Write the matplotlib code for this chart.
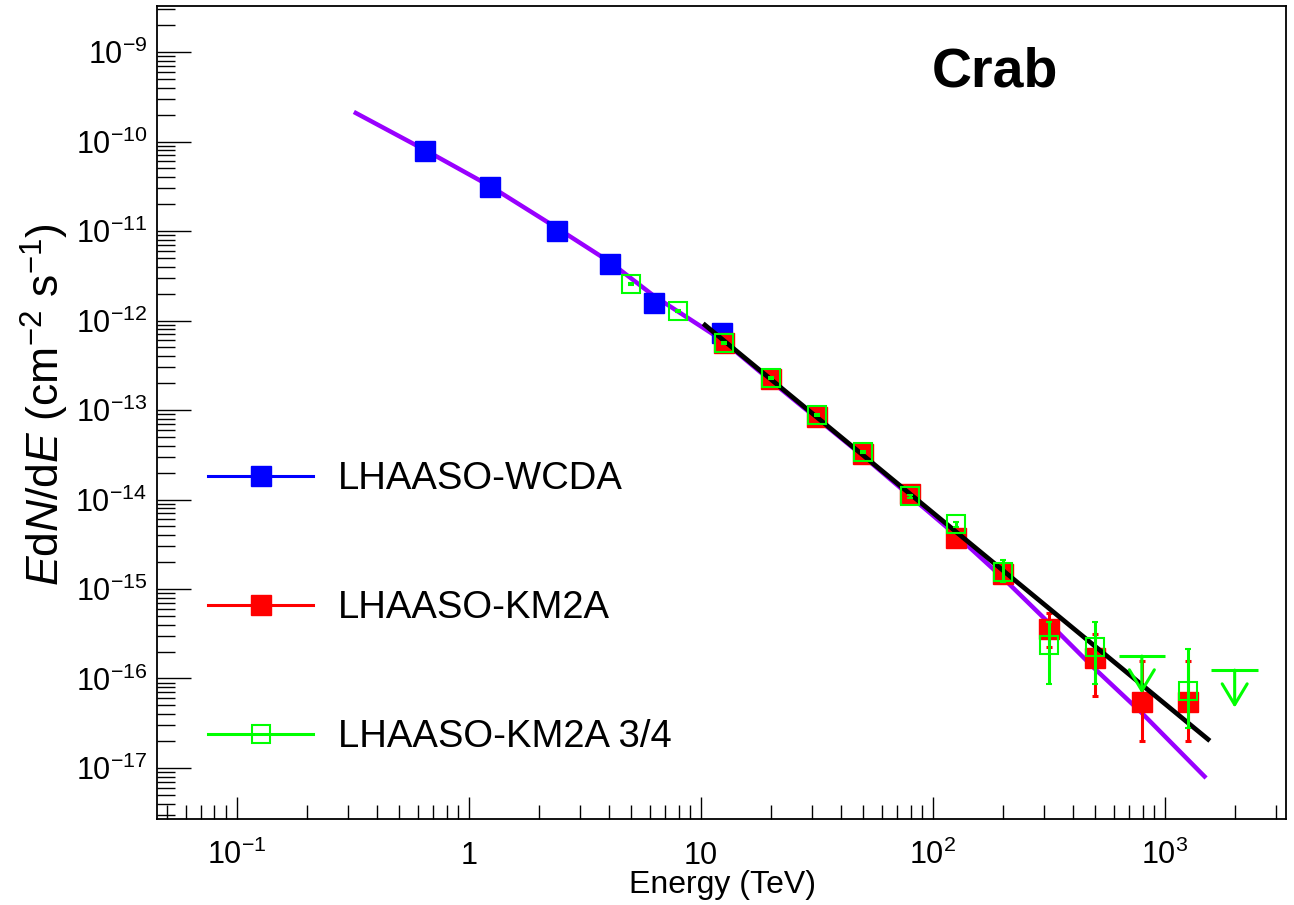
import numpy as np
import matplotlib
matplotlib.use("Agg")
from matplotlib import pyplot as plt
from matplotlib import ticker
from matplotlib import transforms as mtransforms
from matplotlib.lines import Line2D

plt.rcParams['font.family'] = ['Liberation Sans', 'DejaVu Sans']
plt.rcParams['mathtext.fontset'] = 'custom'
plt.rcParams['mathtext.rm'] = 'Liberation Sans'
plt.rcParams['mathtext.it'] = 'Liberation Sans:italic'
plt.rcParams['mathtext.bf'] = 'Liberation Sans:bold'

# ---- data (E in TeV, E dN/dE in cm^-2 s^-1) ----
wcda_e = [0.646, 1.235, 2.40, 4.05, 6.29, 12.3]
wcda_f = [7.78e-11, 3.13e-11, 1.00e-11, 4.28e-12, 1.58e-12, 7.31e-13]

km2a_e = [12.6, 20.0, 31.6, 50.1, 79.4, 125.9, 199.5, 316.2, 501.2, 794.3, 1258.9]
km2a_f = [5.56e-13, 2.20e-13, 8.41e-14, 3.22e-14, 1.14e-14, 3.68e-15, 1.47e-15,
          3.54e-16, 1.71e-16, 5.5e-17, 5.5e-17]
km2a_hi = [5.8e-13, 2.28e-13, 8.7e-14, 3.33e-14, 1.18e-14, 3.85e-15, 1.58e-15,
           5.39e-16, 3.14e-16, 1.58e-16, 1.58e-16]
km2a_lo = [5.3e-13, 2.12e-13, 8.1e-14, 3.1e-14, 1.1e-14, 3.5e-15, 1.36e-15,
           2.25e-16, 6.37e-17, 2.02e-17, 2.02e-17]

km34_e = [5.01, 7.94, 12.6, 20.0, 31.6, 50.1, 79.4, 125.9, 199.5, 316.2, 501.2, 1258.9]
km34_f = [2.54e-12, 1.29e-12, 5.65e-13, 2.28e-13, 8.73e-14, 3.37e-14, 1.09e-14,
          5.28e-15, 1.54e-15, 2.37e-16, 2.27e-16, 7.31e-17]
km34_hi = [2.6e-12, 1.32e-12, 5.8e-13, 2.34e-13, 8.95e-14, 3.46e-14, 1.13e-14,
           5.6e-15, 2.11e-15, 4.31e-16, 4.25e-16, 2.14e-16]
km34_lo = [2.48e-12, 1.26e-12, 5.5e-13, 2.22e-13, 8.5e-14, 3.28e-14, 1.05e-14,
           4.95e-15, 1.21e-15, 8.6e-17, 8.6e-17, 2.77e-17]

# KM2A 3/4 upper limits
ul_e = [794.3, 1995.3]
ul_f = [1.78e-16, 1.24e-16]
ul_elo = [631.0, 1585.0]
ul_ehi = [1000.0, 2512.0]

# fitted curves
lp_e = [0.319, 0.646, 1.232, 2.394, 4.05, 6.27, 12.32, 19.8, 49.9, 126.9,
        198.3, 316.0, 494.0, 788.0, 1502.0]
lp_f = [2.14e-10, 8.04e-11, 3.18e-11, 1.08e-11, 4.50e-12, 1.88e-12, 6.05e-13,
        2.16e-13, 3.06e-14, 3.91e-15, 1.36e-15, 4.17e-16, 1.31e-16, 4.2e-17, 7.73e-18]
pl_e = [10.4, 1532.0]
pl_f = [8.9e-13, 2.09e-17]

x_major = [0.1, 1, 10, 100, 1000]
y_major = [1e-17, 1e-16, 1e-15, 1e-14, 1e-13, 1e-12, 1e-11, 1e-10, 1e-9]

labels = ['LHAASO-WCDA', 'LHAASO-KM2A', 'LHAASO-KM2A 3/4']
c_blue, c_red, c_green, c_purple = '#0000ff', '#ff0000', '#00ff00', '#9900ff'

fig = plt.figure(figsize=(12.94, 9.05), dpi=100)
ax = fig.add_axes([0.1213, 0.0950, 0.8725, 0.8984])
ax.set_xscale('log')
ax.set_yscale('log')

ax.plot(lp_e, lp_f, color=c_purple, lw=3.2, zorder=2, solid_capstyle='butt')
ax.plot(wcda_e, wcda_f, 's', color=c_blue, ms=15, mec=c_blue, zorder=3)

km2a_e = np.array(km2a_e)
km2a_f = np.array(km2a_f)
ax.errorbar(km2a_e, km2a_f, yerr=[km2a_f - np.array(km2a_lo), np.array(km2a_hi) - km2a_f],
            fmt='s', color=c_red, ms=14.5, mec=c_red, elinewidth=2.2,
            capsize=2.5, capthick=2.2, zorder=4)
ax.plot(pl_e, pl_f, color='black', lw=3.4, zorder=5)

km34_e = np.array(km34_e)
km34_f = np.array(km34_f)
ax.errorbar(km34_e, km34_f, yerr=[km34_f - np.array(km34_lo), np.array(km34_hi) - km34_f],
            fmt='s', color=c_green, ms=13, mfc='none', mec=c_green, mew=1.5,
            elinewidth=2.2, capsize=2.5, capthick=2.2, zorder=6)

# upper limits: horizontal bin bar + open arrow pointing down
ax.hlines(ul_f, ul_elo, ul_ehi, colors=c_green, lw=2.2, zorder=6)
down = mtransforms.offset_copy(ax.transData, fig=fig, y=-27, units='points')
for e, f in zip(ul_e, ul_f):
    ax.annotate('', xy=(e, f), xycoords=down, xytext=(e, f), textcoords='data',
                arrowprops=dict(arrowstyle='->,head_length=0.75,head_width=0.45',
                                color=c_green, lw=2.2, shrinkA=0, shrinkB=0,
                                mutation_scale=20), zorder=6)

# axes styling (ROOT look)
for sp in ax.spines.values():
    sp.set_linewidth(1.3)
ax.set_xticks(x_major)
ax.set_yticks(y_major)
ax.xaxis.set_minor_locator(ticker.LogLocator(base=10, subs=np.arange(2, 10), numticks=20))
ax.yaxis.set_minor_locator(ticker.LogLocator(base=10, subs=np.arange(2, 10), numticks=20))
ax.xaxis.set_minor_formatter(ticker.NullFormatter())
ax.yaxis.set_minor_formatter(ticker.NullFormatter())


def xfmt(v, pos):
    n = int(round(np.log10(v)))
    if n == 0:
        return '1'
    if n == 1:
        return '10'
    return r'$10^{%d}$' % n


def yfmt(v, pos):
    n = int(round(np.log10(v)))
    return r'$10^{%d}$' % n


ax.xaxis.set_major_formatter(ticker.FuncFormatter(xfmt))
ax.yaxis.set_major_formatter(ticker.FuncFormatter(yfmt))
ax.set_xlim(0.0452, 3320)
ax.set_ylim(2.69e-18, 3.27e-9)
ax.tick_params(axis='both', which='both', direction='in', top=False, right=False, width=1.0)
ax.tick_params(axis='x', which='major', length=16, pad=32.4, labelsize=22)
ax.tick_params(axis='x', which='minor', length=10)
ax.tick_params(axis='y', which='major', length=24.5, pad=7, labelsize=22)
ax.tick_params(axis='y', which='minor', length=13)
fig.canvas.draw()
for lab in ax.get_xticklabels():
    lab.set_va('baseline')

fig.text(722 / 1294, 1 - 893 / 905, 'Energy (TeV)', fontsize=23, ha='center', va='baseline')
fig.text(45 / 1294, 1 - 405 / 905,
         r'$E\mathrm{d}N/\mathrm{d}E\ (\mathrm{cm}^{-2}\ \mathrm{s}^{-1})$',
         fontsize=32, rotation=90, ha='center', va='center')
fig.text(995 / 1294, 1 - 86.7 / 905, 'Crab', fontsize=40, fontweight='bold',
         ha='center', va='baseline')

handles = [
    Line2D([], [], color=c_blue, lw=2.2, marker='s', ms=15, mec=c_blue),
    Line2D([], [], color=c_red, lw=2.2, marker='s', ms=14.5, mec=c_red),
    Line2D([], [], color=c_green, lw=2.2, marker='s', ms=13, mfc='none', mec=c_green, mew=1.5),
]
ax.legend(handles, labels, loc='upper left', bbox_to_anchor=(208 / 1294, 1 - 461 / 905),
          bbox_transform=fig.transFigure, frameon=False, borderpad=0, borderaxespad=0,
          handlelength=2.75, handletextpad=0.65, labelspacing=2.44, numpoints=1,
          fontsize=27.5)

fig.savefig('out.png', dpi=100)
